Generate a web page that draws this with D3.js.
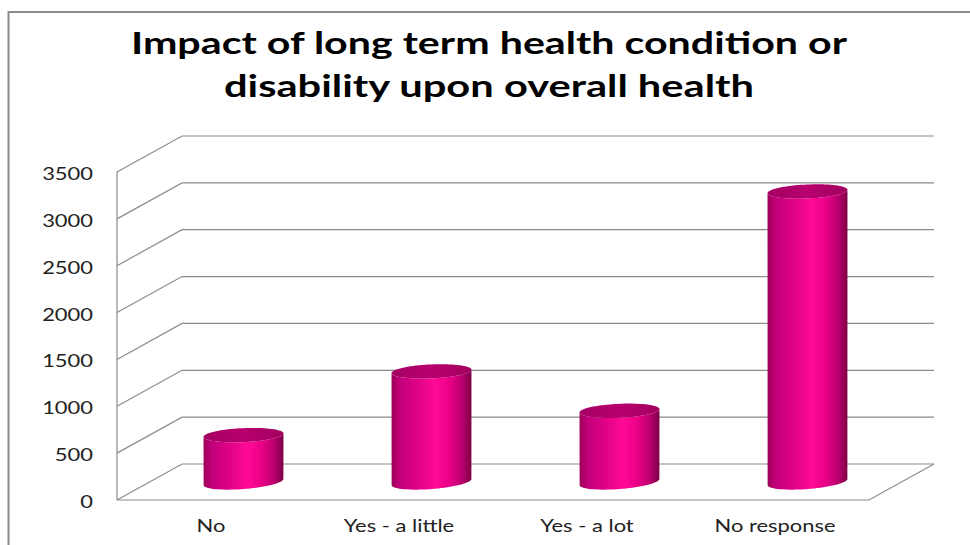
<!DOCTYPE html>
<html>
<head>
<meta charset="utf-8">
<script src="https://cdn.jsdelivr.net/npm/d3@7"></script>
<style>
  html, body { margin: 0; padding: 0; background: #ffffff; }
  svg { display: block; }
</style>
</head>
<body>
<svg id="chart" width="970" height="545"></svg>
<script>
// ---- data ----
const titleLines = ["Impact of long term health condition or", "disability upon overall health"];
const categories = ["No", "Yes - a little", "Yes - a lot", "No response"];
const values = [500, 1180, 760, 3100];
const yTicks = [0, 500, 1000, 1500, 2000, 2500, 3000, 3500];

// ---- layout ----
const W = 970, H = 545;
const plotLeft = 117, plotRight = 869, plotBottom = 500, plotTop = 172;   // front face of the plot box
const depthX = 65, depthY = -36;                                          // 3-D depth offset of the back wall
const textStretch = 1.29;                                                 // wide axis lettering
const gridColor = "#8c8c8c";

const svg = d3.select("#chart");

const x = d3.scaleBand().domain(categories).range([plotLeft, plotRight]);
const y = d3.scaleLinear().domain([0, d3.max(yTicks)]).range([plotBottom, plotTop]);

// outer chart border
svg.append("rect")
  .attr("x", 8.5).attr("y", 12)
  .attr("width", W + 10).attr("height", H + 10)
  .attr("fill", "none")
  .attr("stroke", "#8a8a8a")
  .attr("stroke-width", 2);

// title
const titleWidths = [716, 530];
svg.append("g").selectAll("text")
  .data(titleLines)
  .join("text")
  .attr("x", 489)
  .attr("y", (d, i) => 53.5 + i * 43.5)
  .attr("text-anchor", "middle")
  .attr("font-family", "Lato, 'Open Sans', sans-serif")
  .attr("font-weight", 700)
  .attr("font-size", 30)
  .attr("fill", "#000")
  .attr("textLength", (d, i) => titleWidths[i])
  .attr("lengthAdjust", "spacingAndGlyphs")
  .text(d => d);

// walls: side-wall diagonals + back-wall gridlines
const grid = svg.append("g")
  .attr("fill", "none")
  .attr("stroke", gridColor)
  .attr("stroke-width", 1.2);

grid.selectAll("path.grid")
  .data(yTicks)
  .join("path")
  .attr("class", "grid")
  .attr("d", v => {
    const yf = y(v);
    return `M${plotLeft},${yf} L${plotLeft + depthX},${yf + depthY} L${plotRight + depthX},${yf + depthY}`;
  });

// front-left edge of the side wall
grid.append("path")
  .attr("d", `M${plotLeft},${y(0)} L${plotLeft},${y(d3.max(yTicks))}`);

// floor front and right edges
grid.append("path")
  .attr("d", `M${plotLeft},${y(0)} L${plotRight},${y(0)} L${plotRight + depthX},${y(0) + depthY}`);

// value axis labels
const yAxis = svg.append("g")
  .attr("transform", `translate(${plotLeft},0)`)
  .call(d3.axisLeft(y)
    .tickValues(yTicks)
    .tickFormat(d3.format("d"))
    .tickSize(0)
    .tickPadding(24 / textStretch));
yAxis.select(".domain").remove();
yAxis.selectAll("text")
  .attr("font-family", "Lato, 'Open Sans', sans-serif")
  .attr("font-size", 17)
  .attr("fill", "#222")
  .attr("y", 2)
  .attr("transform", `scale(${textStretch},1)`);

// category labels
svg.append("g").selectAll("text")
  .data(categories)
  .join("text")
  .attr("transform", d => `translate(${x(d) + x.bandwidth() / 2},532) scale(${textStretch},1)`)
  .attr("text-anchor", "middle")
  .attr("font-family", "Lato, 'Open Sans', sans-serif")
  .attr("font-size", 17)
  .attr("fill", "#222")
  .text(d => d);

// ---- cylinders ----
const defs = svg.append("defs");
const bodyGrad = defs.append("linearGradient")
  .attr("id", "cylBody")
  .attr("x1", 0).attr("x2", 1).attr("y1", 0).attr("y2", 0);
[
  [0.00, "#9c0058"],
  [0.10, "#c2007a"],
  [0.30, "#dc0085"],
  [0.55, "#ff0a96"],
  [0.72, "#ec0088"],
  [0.88, "#bb006e"],
  [1.00, "#7c0046"]
].forEach(([o, c]) => bodyGrad.append("stop").attr("offset", o).attr("stop-color", c));

const topGrad = defs.append("linearGradient")
  .attr("id", "cylTop")
  .attr("x1", 0).attr("x2", 1).attr("y1", 0).attr("y2", 0);
[
  [0.00, "#a40062"],
  [0.50, "#b8006e"],
  [1.00, "#a2005f"]
].forEach(([o, c]) => topGrad.append("stop").attr("offset", o).attr("stop-color", c));

const rx = 40, ry = 7;
const topTilt = -2.5 * Math.PI / 180;
const baseTilt = -4.5 * Math.PI / 180;

// point on a tilted ellipse at parameter t
function ellPt(cx, cy, tilt, t) {
  const ex = rx * Math.cos(t), ey = ry * Math.sin(t);
  return [cx + ex * Math.cos(tilt) - ey * Math.sin(tilt),
          cy + ex * Math.sin(tilt) + ey * Math.cos(tilt)];
}
function arc(cx, cy, tilt, t0, t1, n = 40) {
  return d3.range(n + 1).map(k => ellPt(cx, cy, tilt, t0 + (t1 - t0) * k / n));
}

const barData = categories.map((c, i) => ({
  c, v: values[i],
  cx: x(c) + x.bandwidth() / 2 + depthX / 2,
  yBase: y(0) + depthY / 2,
  yTop: y(values[i]) + depthY / 2
}));

const line = d3.line();
const barG = svg.append("g").selectAll("g").data(barData).join("g");

barG.append("path")
  .attr("fill", "url(#cylBody)")
  .attr("d", d => {
    const baseArc = arc(d.cx, d.yBase, baseTilt, Math.PI, 0);
    const topArc = arc(d.cx, d.yTop, topTilt, 0, Math.PI);
    return line(baseArc.concat(topArc)) + "Z";
  });

barG.append("path")
  .attr("fill", "url(#cylTop)")
  .attr("d", d => line(arc(d.cx, d.yTop, topTilt, 0, 2 * Math.PI, 80)) + "Z");
</script>
</body>
</html>
